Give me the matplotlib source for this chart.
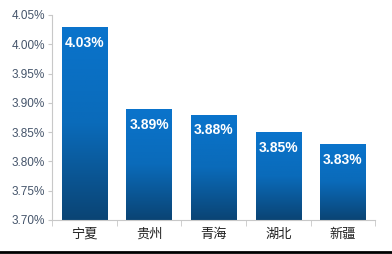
import matplotlib.pyplot as plt
import numpy as np
from matplotlib.colors import LinearSegmentedColormap

plt.rcParams['font.family'] = ['Liberation Sans', 'Noto Sans CJK SC', 'DejaVu Sans']

regiones = ['宁夏', '贵州', '青海', '湖北', '新疆']
valores = [4.03, 3.89, 3.88, 3.85, 3.83]
yticks = [3.70, 3.75, 3.80, 3.85, 3.90, 3.95, 4.00, 4.05]

fig = plt.figure(figsize=(3.92, 2.54), dpi=100)
ax = fig.add_axes([0.133, 0.134, 0.824, 0.807])

x = np.arange(len(regiones))
barras = ax.bar(x, valores, width=0.7, bottom=0, color='none', zorder=2)

# degradado vertical para cada barra
grad = np.linspace(0, 1, 256).reshape(-1, 1)
cmap = LinearSegmentedColormap.from_list('azul', ['#0b4474', '#0a6bba', '#0a74cc'])
for b, v in zip(barras, valores):
    x0 = b.get_x()
    img = ax.imshow(grad, cmap=cmap, aspect='auto', origin='lower',
                    extent=[x0, x0 + b.get_width(), 3.70, v], zorder=2)
    img.set_clip_path(b)
    ax.text(b.get_x() + b.get_width() / 2, v - 0.027, '%.2f%%' % v,
            ha='center', va='center', color='white', fontsize=10,
            fontweight='bold', zorder=3)

ax.set_xlim(-0.5, len(regiones) - 0.5)
ax.set_ylim(3.70, 4.05)
ax.set_yticks(yticks)
ax.set_yticklabels(['%.2f%%' % t for t in yticks], color='#44546a', fontsize=8.5)
ax.set_xticks(x)
ax.set_xticklabels(regiones, fontsize=9.5, color='#222222')
ax.set_xticks(np.arange(len(regiones) + 1) - 0.5, minor=True)
ax.tick_params(axis='x', which='major', length=0, pad=6)
ax.tick_params(axis='x', which='minor', length=4, color='#c8c8c8')
ax.tick_params(axis='y', length=3, color='#c8c8c8', pad=2)

for s in ['top', 'right']:
    ax.spines[s].set_visible(False)
for s in ['left', 'bottom']:
    ax.spines[s].set_color('#c8c8c8')

fig.add_artist(plt.Line2D([0, 1], [0.006, 0.006], color='black', lw=2,
                          transform=fig.transFigure))

fig.savefig('out.png', dpi=100)
